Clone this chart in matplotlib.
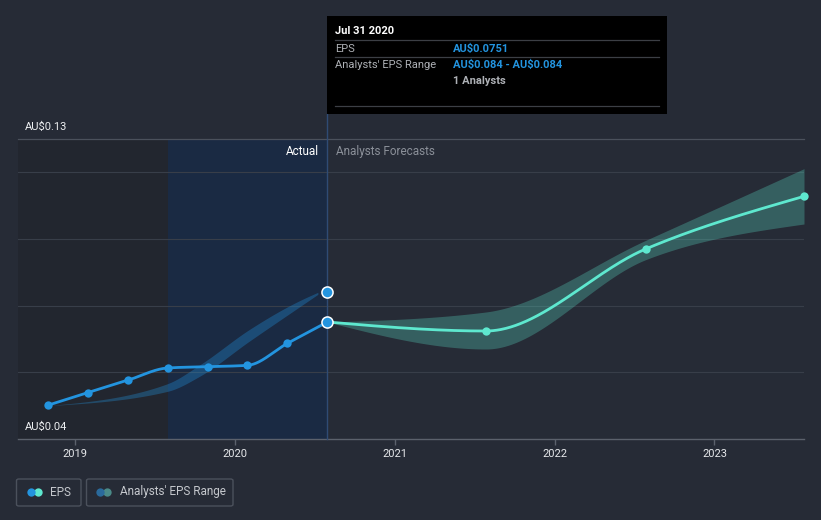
import numpy as np
import matplotlib
matplotlib.use("Agg")
import matplotlib.pyplot as plt
from matplotlib.patches import Rectangle, FancyBboxPatch
from matplotlib.lines import Line2D

plt.rcParams['font.family'] = ['Roboto', 'DejaVu Sans']
plt.rcParams['text.parse_math'] = False

# ---------------- data ----------------
actual_dates = [2018.83, 2019.08, 2019.33, 2019.58, 2019.83, 2020.08, 2020.33, 2020.58]
actual_eps = [0.0501, 0.0539, 0.0576, 0.0613, 0.0617, 0.0621, 0.0687, 0.0751]

past_range_dates = [2018.83, 2019.58, 2019.78, 2020.09, 2020.41, 2020.52]
past_range_low = [0.0500, 0.0543, 0.0588, 0.0693, 0.0798, 0.0834]
past_range_high = [0.0500, 0.0566, 0.0622, 0.0728, 0.0816, 0.0840]
analyst_point_date = 2020.58
analyst_point_value = 0.084

forecast_dates = [2020.58, 2021.57, 2022.57, 2023.56]
forecast_eps = [0.0751, 0.0724, 0.0970, 0.1128]
forecast_low = [0.0751, 0.0670, 0.0938, 0.1045]
forecast_high = [0.0751, 0.0781, 0.0996, 0.1211]

year_ticks = [2019, 2020, 2021, 2022, 2023]
grid_values = [0.06, 0.08, 0.10, 0.12]
y_min, y_max = 0.04, 0.13
y_labels = ["AU$0.04", "AU$0.13"]

# ---------------- style ----------------
BG = '#262b36'
BLUE = '#2394df'
TEAL = '#5ee8cf'
W, H = 821, 520


def monotone(x, y, n=200):
    x = np.asarray(x, float)
    y = np.asarray(y, float)
    h = np.diff(x)
    d = np.diff(y) / h
    m = np.zeros(len(x))
    for k in range(1, len(x) - 1):
        if d[k - 1] * d[k] > 0:
            p = (d[k - 1] * h[k] + d[k] * h[k - 1]) / (h[k - 1] + h[k])
            m[k] = np.sign(d[k]) * min(abs(p), 2 * abs(d[k - 1]), 2 * abs(d[k]))
    if len(x) > 2:
        m[0] = (3 * d[0] - m[1]) / 2
        m[-1] = (3 * d[-1] - m[-2]) / 2
    else:
        m[0] = m[-1] = d[0]
    xs, ys = [], []
    for k in range(len(x) - 1):
        t = np.linspace(0, 1, n)
        h00 = 2 * t**3 - 3 * t**2 + 1
        h10 = t**3 - 2 * t**2 + t
        h01 = -2 * t**3 + 3 * t**2
        h11 = t**3 - t**2
        xs.append(x[k] + t * h[k])
        ys.append(h00 * y[k] + h10 * h[k] * m[k] + h01 * y[k + 1] + h11 * h[k] * m[k + 1])
    return np.concatenate(xs), np.concatenate(ys)


def fx(px):
    return px / W


def fy(py):
    return 1 - py / H


fig = plt.figure(figsize=(W / 100, H / 100), dpi=100, facecolor=BG)
ax = fig.add_axes([fx(18), fy(439), (804 - 18) / W, 300 / H])
ax.set_facecolor(BG)
x_left = 2018.645
ax.set_xlim(x_left, forecast_dates[-1])
ax.set_ylim(y_min, y_max)
for s in ax.spines.values():
    s.set_visible(False)

# shaded regions
last_actual = actual_dates[-1]
ax.axvspan(x_left, last_actual - 1.0, color='#22262f', zorder=0, lw=0)
ax.axvspan(last_actual - 1.0, last_actual, color='#1a2a43', zorder=0, lw=0)

# grid
for g in grid_values:
    ax.axhline(g, color='#383e49', lw=0.8, zorder=1)
ax.axhline(y_max, color='#4b515c', lw=0.9, zorder=1, clip_on=False)
ax.axhline(y_min, color='#5b616c', lw=1.0, zorder=1, clip_on=False)

# divider line
ax.axvline(last_actual, ymin=0, ymax=(439 - 114) / 300, color='#2f4b74', lw=1.0,
           zorder=2, clip_on=False)

# past analyst range band
bx, bl = monotone(past_range_dates, past_range_low)
_, bh = monotone(past_range_dates, past_range_high)
ax.fill_between(bx, bl, bh, color=BLUE, alpha=0.33, lw=0, zorder=2)

# forecast band
fxs, fl = monotone(forecast_dates, forecast_low)
_, fh = monotone(forecast_dates, forecast_high)
ax.fill_between(fxs, fl, fh, color=TEAL, alpha=0.28, lw=0, zorder=2)

# actual line
ax_, ay_ = monotone(actual_dates, actual_eps)
ax.plot(ax_, ay_, color=BLUE, lw=2.0, zorder=4, solid_capstyle='round')
ax.plot(actual_dates[:-1], actual_eps[:-1], 'o', color=BLUE, ms=6, zorder=5, mew=0)

# forecast line
fx_, fy_ = monotone(forecast_dates, forecast_eps)
ax.plot(fx_, fy_, color=TEAL, lw=2.0, zorder=4, solid_capstyle='round')
ax.plot(forecast_dates[1:], forecast_eps[1:], 'o', color=TEAL, ms=6, zorder=5, mew=0,
        clip_on=False)

# highlighted points
ax.plot([actual_dates[-1]], [actual_eps[-1]], 'o', color=BLUE, ms=8, mec='white',
        mew=1.1, zorder=6)
ax.plot([analyst_point_date], [analyst_point_value], 'o', color=BLUE, ms=8, mec='white',
        mew=1.1, zorder=6)

# ticks
ax.set_xticks(year_ticks)
ax.set_xticklabels([str(y) for y in year_ticks])
ax.set_yticks([])
ax.tick_params(axis='x', colors='#5b616c', length=4, width=1, pad=3,
               labelcolor='#e6e8eb', labelsize=8)

# y labels
fig.text(fx(25), fy(427), y_labels[0], color='#eef0f2', fontsize=8, va='center', ha='left')
fig.text(fx(25), fy(127), y_labels[1], color='#eef0f2', fontsize=8, va='center', ha='left')

# region labels
fig.text(fx(319), fy(151), "Actual", color='#ffffff', fontsize=8.5, va='center', ha='right')
fig.text(fx(336), fy(151), "Analysts Forecasts", color='#8b9099', fontsize=8.5,
         va='center', ha='left')

# tooltip
fig.add_artist(Rectangle((fx(327), fy(114)), 340 / W, 98 / H, transform=fig.transFigure,
                         facecolor='#000000', edgecolor='none', zorder=10))
for ly in (40, 57, 106):
    fig.add_artist(Line2D([fx(335), fx(659)], [fy(ly), fy(ly)], transform=fig.transFigure,
                          color='#3c3f45', lw=0.9, zorder=11))
fig.text(fx(335), fy(31), "Jul 31 2020", color='white', fontsize=8, fontweight='bold',
         va='center', zorder=12)
fig.text(fx(335), fy(48.5), "EPS", color='#aeb1b6', fontsize=8, va='center', zorder=12)
fig.text(fx(453), fy(48.5), "AU$0.0751", color=BLUE, fontsize=8, fontweight='bold',
         va='center', zorder=12)
fig.text(fx(335), fy(65), "Analysts' EPS Range", color='#aeb1b6', fontsize=8, va='center',
         zorder=12)
fig.text(fx(453), fy(65), "AU$0.084 - AU$0.084", color=BLUE, fontsize=8, fontweight='bold',
         va='center', zorder=12)
fig.text(fx(453), fy(81.5), "1 Analysts", color='#aeb1b6', fontsize=8, fontweight='bold',
         va='center', zorder=12)

# legend
def legend_box(x0, x1, c1, c2, cx, tx, label):
    fig.add_artist(FancyBboxPatch((fx(x0), fy(506)), (x1 - x0) / W, 27 / H,
                                  boxstyle='round,pad=0,rounding_size=0.003',
                                  transform=fig.transFigure, facecolor='none',
                                  edgecolor='#4b515c', lw=1.0))
    fig.add_artist(Line2D([fx(cx + 7)], [fy(492)], marker='o', ms=6, color=c2, mew=0,
                          transform=fig.transFigure))
    fig.add_artist(Line2D([fx(cx)], [fy(492)], marker='o', ms=6, color=c1, mew=0,
                          transform=fig.transFigure))
    fig.text(fx(tx), fy(492), label, color='#c5c8cd', fontsize=8.5, va='center', ha='left')


legend_box(16.5, 81, BLUE, TEAL, 31, 50, "EPS")
legend_box(86.5, 233, '#2a6a9c', '#4a8a88', 100, 120, "Analysts' EPS Range")

fig.savefig("out.png", dpi=100, facecolor=BG)
